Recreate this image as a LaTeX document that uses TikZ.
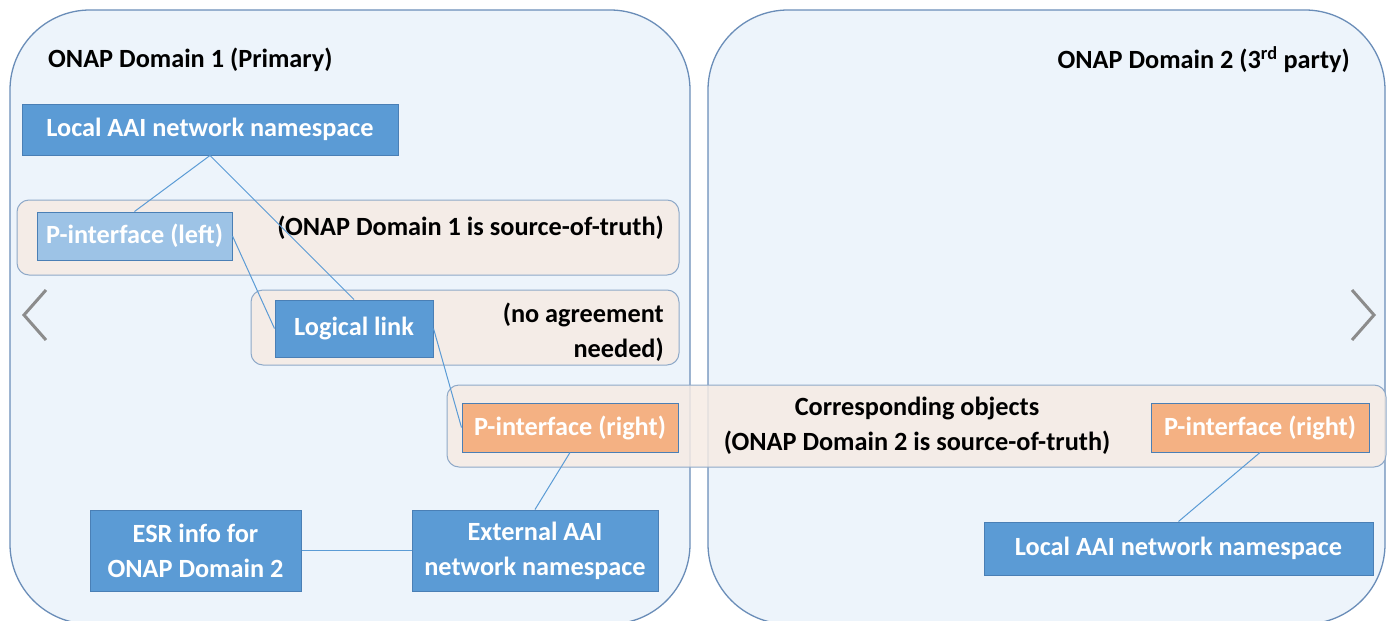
\documentclass[tikz,border=0pt]{standalone}
\usepackage{fontspec}
\setmainfont{Carlito}
\definecolor{domainfill}{HTML}{EDF4FB}
\definecolor{domainline}{HTML}{6A8DB8}
\definecolor{bandfill}{HTML}{F6EBE4}
\definecolor{bandline}{HTML}{8EA9C8}
\definecolor{boxblue}{HTML}{5B9BD5}
\definecolor{boxline}{HTML}{4A7FB5}
\definecolor{lightblue}{HTML}{9DC3E6}
\definecolor{orangebox}{HTML}{F4B183}
\definecolor{chevgray}{HTML}{8C8C8C}
\begin{document}
\begin{tikzpicture}[x=1pt, y=1pt,
    domainbox/.style={draw=domainline, fill=domainfill, line width=1.3pt, rounded corners=80pt, inner sep=0pt},
    band/.style={draw=bandline, fill=bandfill, fill opacity=0.85, line width=1pt, rounded corners=12pt, inner sep=0pt},
    box/.style={draw=boxline, fill=boxblue, line width=1pt, text=white, inner sep=0pt, align=center, font=\bfseries\fontsize{26.3}{35}\selectfont},
    labeltext/.style={inner sep=0pt, font=\bfseries\fontsize{26.3}{35}\selectfont},
    link/.style={draw=boxblue, line width=1pt},
    chev/.style={draw=chevgray, line width=3pt}]

    \useasboundingbox (0,0) rectangle (1387,-621);

    % domains
    \node at (350,-317) (dom1) [domainbox, minimum width=680pt, minimum height=614pt] {};
    \node at (1046.5,-317) (dom2) [domainbox, minimum width=677pt, minimum height=614pt] {};
    \node at (48,-60) (dom1title) [labeltext, anchor=west] {ONAP Domain 1 (Primary)};
    \node at (1350,-60) (dom2title) [labeltext, anchor=east] {ONAP Domain 2 (3\textsuperscript{rd} party)};

    % bands
    \node at (348,-237.5) (band1) [band, minimum width=662pt, minimum height=75pt] {};
    \node at (465,-327.5) (band2) [band, minimum width=428pt, minimum height=75pt] {};
    \node at (916.5,-426) (band3) [band, minimum width=939pt, minimum height=82pt] {};
    \node at (664,-228) (band1text) [labeltext, anchor=east] {(ONAP Domain 1 is source-of-truth)};
    \node at (664,-332) (band2text) [labeltext, anchor=east, align=right] {(no agreement\\needed)};
    \node at (917,-426) (band3text) [labeltext, align=center] {Corresponding objects\\(ONAP Domain 2 is source-of-truth)};

    % boxes
    \node at (210,-129.5) (aaiL) [box, minimum width=376pt, minimum height=51pt] {Local AAI network namespace};
    \node at (134.5,-236) (pifL) [box, fill=lightblue, minimum width=195pt, minimum height=48pt] {P-interface (left)};
    \node at (354,-328.5) (llink) [box, minimum width=158pt, minimum height=57pt] {Logical link};
    \node at (570,-427.5) (pifR) [box, fill=orangebox, minimum width=216pt, minimum height=49pt] {P-interface (right)};
    \node at (1260,-427.5) (pifR2) [box, fill=orangebox, minimum width=218pt, minimum height=49pt] {P-interface (right)};
    \node at (195.5,-550.5) (esr) [box, minimum width=211pt, minimum height=81pt] {ESR info for\\ONAP Domain 2};
    \node at (535,-550.5) (extaai) [box, minimum width=246pt, minimum height=81pt] {External AAI\\network namespace};
    \node at (1178.5,-548.5) (aaiR) [box, minimum width=389pt, minimum height=53pt] {Local AAI network namespace};

    % links
    \path[link] (aaiL.south) -- (pifL.north);
    \path[link] (aaiL.south) -- (llink.north);
    \path[link] (pifL.east) -- (llink.west);
    \path[link] (llink.east) -- (pifR.west);
    \path[link] (pifR.south) -- (extaai.north);
    \path[link] (esr.east) -- (extaai.west);
    \path[link] (pifR2.south) -- (aaiR.north);

    % chevrons
    \draw[chev] (46,-290) -- (24,-315) -- (46,-340);
    \draw[chev] (1352,-290) -- (1374,-315) -- (1352,-340);

\end{tikzpicture}
\end{document}
